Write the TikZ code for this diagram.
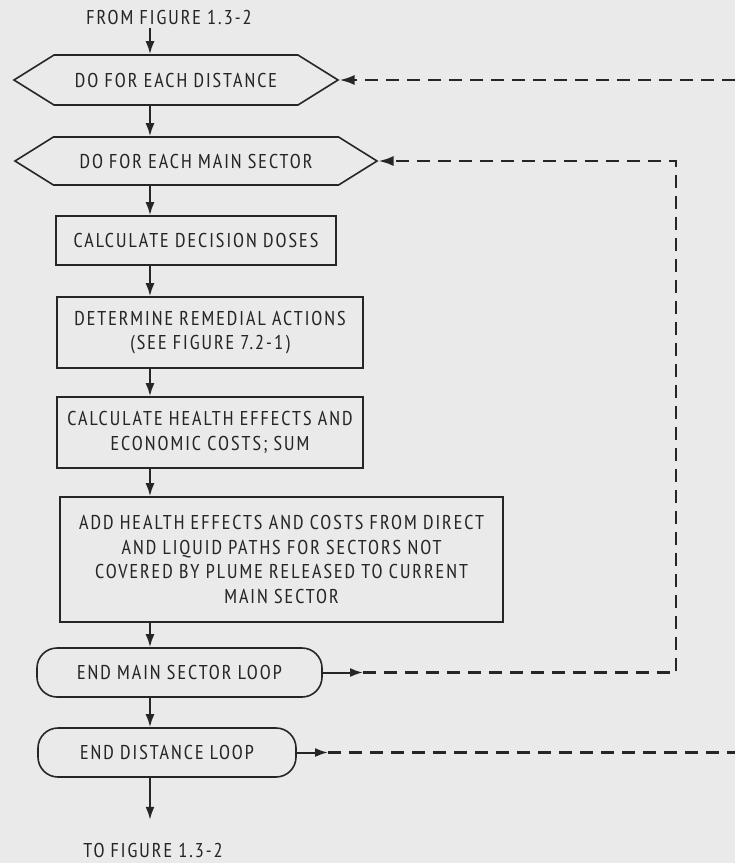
\documentclass[tikz,border=0pt]{standalone}
\usepackage{fontspec}
\setmainfont{PT Sans Narrow}[LetterSpace=10]
\usepackage{tikz}
\usetikzlibrary{arrows.meta,shapes.symbols}
\definecolor{ScanPaper}{HTML}{EAEAEA}
\definecolor{ScanInk}{HTML}{262626}

\begin{document}
\begin{tikzpicture}[
  x=1pt, y=-1pt,
  every node/.style={font=\fontsize{20}{24.5}\selectfont, text=ScanInk},
  loopbox/.style={signal, signal to=west and east, signal pointer angle=64,
    draw=ScanInk, line width=1.6pt, fill=ScanPaper, inner sep=0pt},
  procbox/.style={rectangle, draw=ScanInk, line width=1.6pt, fill=ScanPaper,
    inner sep=0pt, align=center},
  endbox/.style={rectangle, rounded corners=20pt, draw=ScanInk, line width=1.6pt,
    fill=ScanPaper, inner sep=0pt},
  flow/.style={-{Latex[length=13pt,width=9pt]}, line width=2pt, ScanInk},
  back/.style={line width=2.4pt, ScanInk, dash pattern=on 13pt off 8pt},
  backtip/.style={back, -{Latex[length=15pt,width=10pt]}}
]
  \fill[ScanPaper] (0,0) rectangle (735,863);
  \useasboundingbox (0,0) rectangle (735,863);

  \coordinate (spine) at (150,0);

  \node (from) at (169,17) {FROM FIGURE 1.3-2};
  \node[loopbox, minimum width=324pt, minimum height=50pt] (dist) at (176,80) {DO FOR EACH DISTANCE};
  \node[loopbox, minimum width=362pt, minimum height=48pt] (sect) at (196,161) {DO FOR EACH MAIN SECTOR};
  \node[procbox, minimum width=280pt, minimum height=49pt] (dose) at (196,240.5) {CALCULATE DECISION DOSES};
  \node[procbox, minimum width=306pt, minimum height=71pt] (act) at (210,332.5)
    {DETERMINE REMEDIAL ACTIONS\\(SEE FIGURE 7.2-1)};
  \node[procbox, minimum width=306pt, minimum height=71pt] (cost) at (210,432.5)
    {CALCULATE HEALTH EFFECTS AND\\ECONOMIC COSTS; SUM};
  \node[procbox, minimum width=443pt, minimum height=125pt] (add) at (281.5,559.5)
    {ADD HEALTH EFFECTS AND COSTS FROM DIRECT\\AND LIQUID PATHS FOR SECTORS NOT\\COVERED BY PLUME RELEASED TO CURRENT\\MAIN SECTOR};
  \node[endbox, minimum width=285pt, minimum height=49pt] (endsect) at (179.5,672.5) {END MAIN SECTOR LOOP};
  \node[endbox, minimum width=258pt, minimum height=49pt] (enddist) at (167,752.5) {END DISTANCE LOOP};
  \node (to) at (153,850) {TO FIGURE 1.3-2};

  % main flow
  \draw[flow] (from.south -| spine) -- (dist.north -| spine);
  \draw[flow] (dist.south -| spine) -- (sect.north -| spine);
  \draw[flow] (sect.south -| spine) -- (dose.north -| spine);
  \draw[flow] (dose.south -| spine) -- (act.north -| spine);
  \draw[flow] (act.south -| spine) -- (cost.north -| spine);
  \draw[flow] (cost.south -| spine) -- (add.north -| spine);
  \draw[flow] (add.south -| spine) -- (endsect.north -| spine);
  \draw[flow] (endsect.south -| spine) -- (enddist.north -| spine);
  \draw[flow] (enddist.south -| spine) -- ([yshift=-42pt]enddist.south -| spine);

  % loop returns
  \coordinate (sectout) at (363,672.5);
  \coordinate (sectSE) at (676,672.5);
  \coordinate (sectNE) at (676,161);
  \coordinate (distout) at (328,752.5);
  \coordinate (distE) at (735,752.5);
  \coordinate (distNE) at (735,80);

  \draw[flow] (endsect.east) -- (sectout);
  \draw[backtip] (sectout) -- (sectSE) -- (sectNE) -- (sect.east);
  \draw[flow] (enddist.east) -- (distout);
  \draw[back] (distout) -- (distE);
  \draw[backtip] (distNE) -- (dist.east);
\end{tikzpicture}
\end{document}
